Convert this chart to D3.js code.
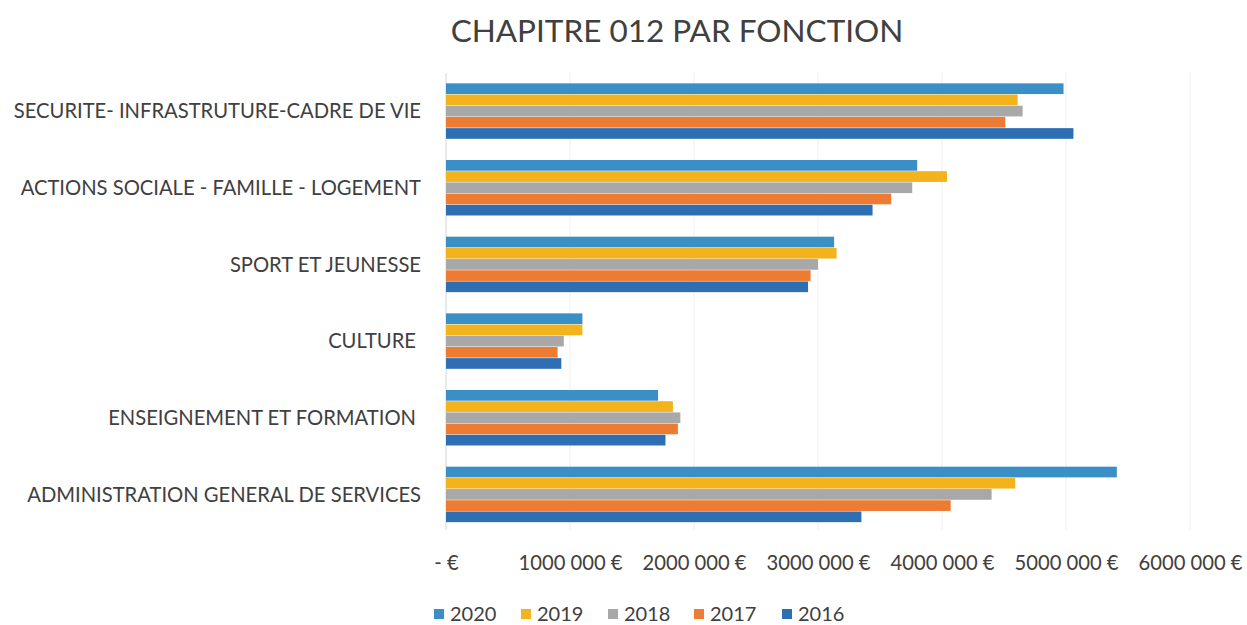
<!DOCTYPE html>
<html><head><meta charset="utf-8">
<script src="https://cdn.jsdelivr.net/npm/d3@7"></script>
<style>body{margin:0;background:#fff}svg{display:block}</style>
</head><body>
<svg id="c" width="1247" height="625"></svg>
<script>
const categories = ["SECURITE- INFRASTRUTURE-CADRE DE VIE","ACTIONS SOCIALE - FAMILLE - LOGEMENT","SPORT ET JEUNESSE","CULTURE","ENSEIGNEMENT ET FORMATION","ADMINISTRATION GENERAL DE SERVICES"];
const years = ["2020","2019","2018","2017","2016"];
const v2020 = [4980000,3800000,3130000,1100000,1710000,5410000];
const v2019 = [4610000,4040000,3150000,1100000,1830000,4590000];
const v2018 = [4650000,3760000,3000000,950000,1890000,4400000];
const v2017 = [4510000,3590000,2940000,900000,1870000,4070000];
const v2016 = [5060000,3440000,2920000,930000,1770000,3350000];
const tickValues = [0,1000000,2000000,3000000,4000000,5000000,6000000];
const tickLabels = ["- €","1000 000 €","2000 000 €","3000 000 €","4000 000 €","5000 000 €","6000 000 €"];
const colors = ["#3b8fc7","#f2b31c","#a8a8a8","#ee7b32","#2e6fb4"];
const series = [v2020,v2019,v2018,v2017,v2016];

const svg = d3.select("#c");
const font = "Lato, 'Open Sans', sans-serif";
const x = d3.scaleLinear().domain([0,6000000]).range([446,1190]);
const y = d3.scaleBand().domain(categories).range([73,533]).paddingInner(0.27).paddingOuter(0.135);
const yi = d3.scaleBand().domain(years).range([0,y.bandwidth()]);

// gridlines
svg.append("g").selectAll("line").data(tickValues).join("line")
  .attr("x1",d=>x(d)).attr("x2",d=>x(d)).attr("y1",73).attr("y2",530)
  .attr("stroke",d=>d===0?"#d4d4d4":"#eeeeee").attr("stroke-width",1);

// bars
const g = svg.append("g");
categories.forEach((c,ci)=>{
  series.forEach((s,si)=>{
    g.append("rect").attr("x",x(0)).attr("y",y(c)+yi(years[si]))
      .attr("width",x(s[ci])-x(0)).attr("height",yi.bandwidth()-0.5)
      .attr("fill",colors[si]);
  });
});

// category labels
const shortLabels = {"CULTURE":1,"ENSEIGNEMENT ET FORMATION":1};
svg.append("g").selectAll("text").data(categories).join("text")
  .attr("x",d=>shortLabels[d]?416:421).attr("y",d=>y(d)+y.bandwidth()/2).attr("dy","0.35em")
  .attr("text-anchor","end").attr("font-family",font).attr("font-size",20.2)
  .attr("fill","#404040").text(d=>d);

// x axis
const xAxis = d3.axisBottom(x).tickValues(tickValues).tickFormat((d,i)=>tickLabels[i]).tickSize(0).tickPadding(0);
const ax = svg.append("g").attr("transform","translate(0,556)").call(xAxis);
ax.select(".domain").remove();
ax.selectAll("text").attr("font-family",font).attr("font-size",20.2).attr("fill","#404040").attr("dy","0.35em").attr("y",7);

// title
svg.append("text").attr("x",677).attr("y",31).attr("dy","0.35em").attr("text-anchor","middle")
  .attr("font-family",font).attr("font-size",31.5).attr("fill","#404040").text("CHAPITRE 012 PAR FONCTION");

// legend
const lg = svg.append("g");
const legX = [434,521,608,694,782];
years.forEach((yr,i)=>{
  lg.append("rect").attr("x",legX[i]).attr("y",609).attr("width",10).attr("height",10).attr("fill",colors[i]);
  lg.append("text").attr("x",legX[i]+16).attr("y",614).attr("dy","0.35em").attr("font-family",font)
    .attr("font-size",20).attr("fill","#404040").text(yr);
});
</script>
</body></html>
